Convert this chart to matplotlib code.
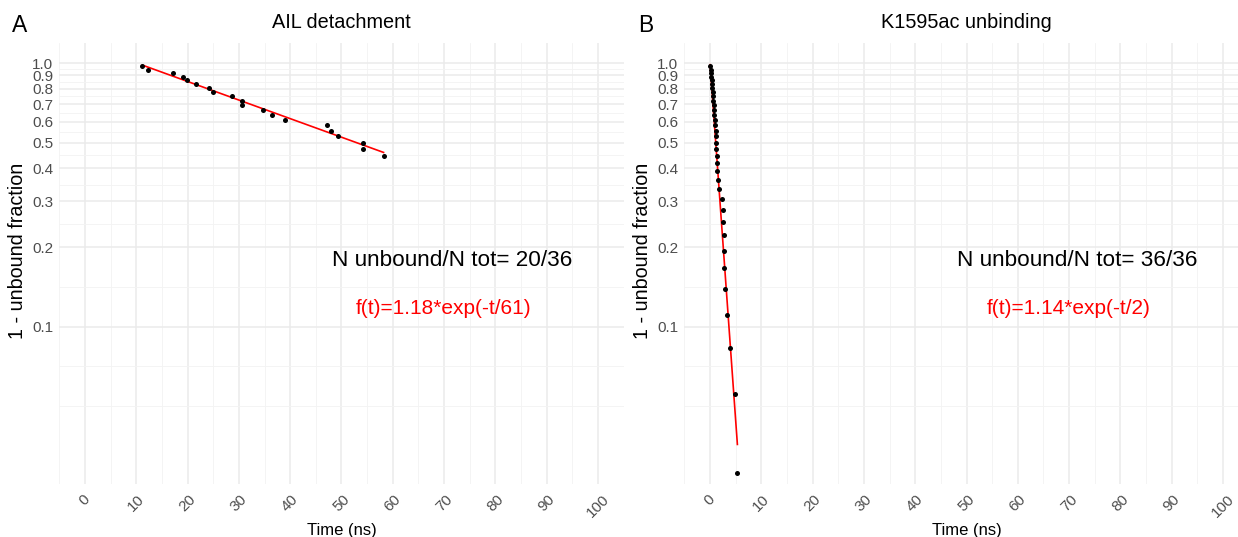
import numpy as np
import matplotlib
matplotlib.use("Agg")
import matplotlib.pyplot as plt
from matplotlib.ticker import FixedLocator, NullFormatter

plt.rcParams['font.family'] = ['Liberation Sans', 'DejaVu Sans']

# survival curves: 1 - unbound fraction vs. time of unbinding (ns)
ail_times = [11.2, 12.3, 17.1, 19.2, 19.9, 21.6, 24.2, 24.9, 28.7, 30.6,
             30.6, 34.7, 36.4, 39.0, 47.2, 47.9, 49.4, 54.2, 54.2, 58.2]
ail_frac = [35/36, 34/36, 33/36, 32/36, 31/36, 30/36, 29/36, 28/36, 27/36, 26/36,
            25/36, 24/36, 23/36, 22/36, 21/36, 20/36, 19/36, 18/36, 17/36, 16/36]

k1595_times = [0.02, 0.10, 0.18, 0.25, 0.32, 0.38, 0.45, 0.52, 0.56, 0.62,
               0.68, 0.74, 0.80, 0.90, 1.00, 1.08, 1.14, 1.20, 1.25, 1.32,
               1.36, 1.43, 1.50, 1.78, 2.24, 2.43, 2.57, 2.63, 2.78, 2.80,
               2.96, 3.22, 3.88, 4.80, 5.33]
k1595_frac = [35/36, 34/36, 33/36, 32/36, 31/36, 30/36, 29/36, 28/36, 27/36, 26/36,
              25/36, 24/36, 23/36, 22/36, 21/36, 20/36, 19/36, 18/36, 17/36, 16/36,
              15/36, 14/36, 13/36, 12/36, 11/36, 10/36, 9/36, 8/36, 7/36, 6/36,
              5/36, 4/36, 3/36, 2/36, 1/36]

# exponential fit f(t) = amp * exp(-t/tau)
fit_amp = [1.18, 1.0]
fit_tau = [61.6, 1.6]

panel_tags = ["A", "B"]
panel_titles = ["AIL detachment", "K1595ac unbinding"]
count_labels = ["N unbound/N tot= 20/36", "N unbound/N tot= 36/36"]
fit_labels = ["f(t)=1.18*exp(-t/61)", "f(t)=1.14*exp(-t/2)"]

x_major = np.arange(0, 101, 10)
x_minor = np.arange(-5, 106, 10)
y_major = [0.1, 0.2, 0.3, 0.4, 0.5, 0.6, 0.7, 0.8, 0.9, 1.0]
y_labels = ["0.1", "0.2", "0.3", "0.4", "0.5", "0.6", "0.7", "0.8", "0.9", "1.0"]

# minor y grid as ggplot does it: geometric midpoints of the majors,
# extended by one step at each end
ext = [y_major[0] ** 2 / y_major[1]] + y_major + [y_major[-1] * y_major[1] / y_major[0]]
y_minor = []
for a, b in zip(ext[:-1], ext[1:]):
    y_minor += [a, np.sqrt(a * b)]
y_minor.append(ext[-1])

W, H = 1238, 537
fig = plt.figure(figsize=(W / 100, H / 100), dpi=100)

panel_left = [59.35, 684.4]
panel_w = 564.3
panel_top, panel_bot = 42.7, 484.3

data = [(ail_times, ail_frac), (k1595_times, k1595_frac)]
grey_txt = '#4D4D4D'

for i in range(2):
    ax = fig.add_axes([panel_left[i] / W, 1 - panel_bot / H,
                       panel_w / W, (panel_bot - panel_top) / H])
    t, y = data[i]
    ax.set_yscale('log')
    ax.set_xlim(-5, 105)
    ax.set_ylim(0.02523, 1.197)

    ax.xaxis.set_major_locator(FixedLocator(x_major))
    ax.xaxis.set_minor_locator(FixedLocator(x_minor))
    ax.yaxis.set_major_locator(FixedLocator(y_major))
    ax.yaxis.set_minor_locator(FixedLocator(y_minor))
    ax.set_yticklabels(y_labels)
    ax.yaxis.set_minor_formatter(NullFormatter())
    ax.set_xticklabels([str(v) for v in x_major], rotation=45,
                       ha='center', va='top')

    ax.grid(which='major', color='#EBEBEB', lw=1.1)
    ax.grid(which='minor', color='#F3F3F3', lw=0.6)
    ax.set_axisbelow(True)
    for s in ax.spines.values():
        s.set_visible(False)
    ax.tick_params(which='both', length=0)
    ax.tick_params(axis='y', labelsize=11, labelcolor=grey_txt, pad=4.5)
    ax.tick_params(axis='x', labelsize=11, labelcolor=grey_txt, pad=6)

    tt = np.linspace(min(t), max(t), 100)
    ax.plot(tt, fit_amp[i] * np.exp(-tt / fit_tau[i]), color='red', lw=1.2, zorder=2)
    ax.scatter(t, y, s=13, color='black', zorder=3, linewidths=0)

    ax.text(71.5, 0.178, count_labels[i], ha='center', va='center', fontsize=16.2,
            color='black')
    ax.text(69.9, 0.117, fit_labels[i], ha='center', va='center', fontsize=15,
            color='red')

    ax.set_xlabel("Time (ns)", fontsize=12, labelpad=2)
    ax.set_ylabel("1 - unbound fraction", fontsize=14.2)
    ax.yaxis.set_label_coords(-0.058, 0.528)

    cx = (panel_left[i] + panel_w / 2) / W
    fig.text(cx, 1 - 22 / H, panel_titles[i], ha='center', va='center', fontsize=14.3)
    fig.text([20, 646][i] / W, 1 - 25 / H, panel_tags[i], ha='center', va='center',
             fontsize=16.5)

fig.savefig("out.png", dpi=100)
